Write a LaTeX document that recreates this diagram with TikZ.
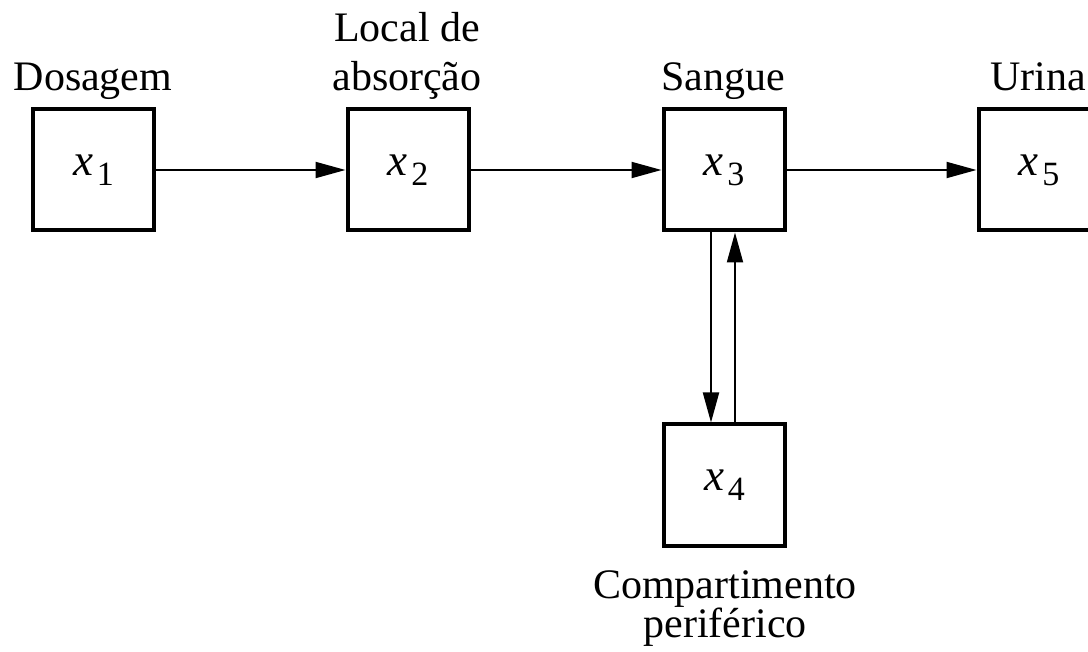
\documentclass[tikz,border=0pt]{standalone}
\usepackage{fontspec}
\setmainfont{Liberation Serif}
\usetikzlibrary{arrows.meta}

% compartment variable: italic x with a lowered upright index
\newcommand{\compvar}[1]{{\fontsize{45}{50}\selectfont\itshape x}\kern4pt\raisebox{-10pt}{\fontsize{34}{36}\selectfont #1}}

\tikzset{
  comp/.style={draw, line width=4pt, minimum size=121pt, inner sep=0pt, fill=white},
  lab/.style={anchor=base, inner sep=0pt, font=\fontsize{42}{48}\selectfont},
  flow/.style={line width=2pt, -{Triangle[length=30pt 0 0,width=16pt 0 0]}}
}

\begin{document}
\begin{tikzpicture}[x=1pt, y=-1pt]
  \clip (0,0) rectangle (1088,652);
  \fill[white] (0,0) rectangle (1088,652);

  % compartments
  \node[comp] (x1) at (93.5,170) {\compvar{1}};
  \node[comp] (x2) at (408,170) {\compvar{2}};
  \node[comp] (x3) at (724,170) {\compvar{3}};
  \node[comp] (x5) at (1039,170) {\compvar{5}};
  \node[comp] (x4) at (724.5,485) {\compvar{4}};

  % labels
  \node[lab] (l1) at (93,91) {Dosagem};
  \node[lab] (l2a) at (407,42) {Local de};
  \node[lab] (l2b) at (407,91) {absorção};
  \node[lab] (l3) at (723,91) {Sangue};
  \node[lab] (l5) at (1038,91) {Urina};
  \node[lab] (l4a) at (725,598) {Compartimento};
  \node[lab] (l4b) at (725,637) {periférico};

  % transfers
  \draw[flow] (x1.east) -- (x2.west);
  \draw[flow] (x2.east) -- (x3.west);
  \draw[flow] (x3.east) -- (x5.west);
  \draw[flow] ([xshift=-13pt]x3.south) -- ([xshift=-13.5pt]x4.north);
  \draw[flow] ([xshift=10.5pt]x4.north) -- ([xshift=11pt]x3.south);
\end{tikzpicture}
\end{document}
